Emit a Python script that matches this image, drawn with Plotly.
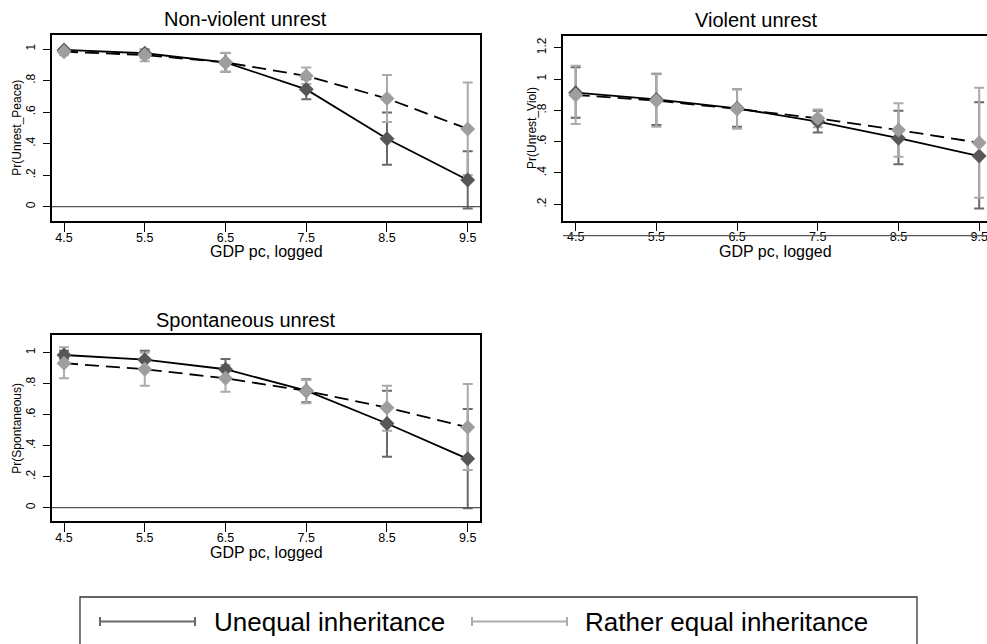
import plotly.graph_objects as go

# ---------------- data ----------------
gdp = [4.5, 5.5, 6.5, 7.5, 8.5, 9.5]
gdp_labels = ["4.5", "5.5", "6.5", "7.5", "8.5", "9.5"]

# Non-violent unrest: Pr(Unrest_Peace)
peace_uneq = [0.994, 0.973, 0.915, 0.744, 0.431, 0.169]
peace_uneq_lo = [0.980, 0.945, 0.855, 0.681, 0.266, -0.012]
peace_uneq_hi = [1.005, 1.000, 0.975, 0.808, 0.597, 0.351]
peace_eq = [0.983, 0.962, 0.915, 0.829, 0.686, 0.493]
peace_eq_lo = [0.960, 0.922, 0.855, 0.778, 0.537, 0.201]
peace_eq_hi = [1.005, 1.000, 0.977, 0.882, 0.835, 0.787]

# Violent unrest: Pr(Unrest_Viol)
viol_uneq = [0.913, 0.870, 0.813, 0.728, 0.622, 0.508]
viol_uneq_lo = [0.753, 0.706, 0.696, 0.658, 0.455, 0.174]
viol_uneq_hi = [1.075, 1.034, 0.934, 0.798, 0.798, 0.851]
viol_eq = [0.898, 0.862, 0.809, 0.749, 0.674, 0.593]
viol_eq_lo = [0.713, 0.696, 0.683, 0.692, 0.504, 0.242]
viol_eq_hi = [1.085, 1.030, 0.935, 0.806, 0.845, 0.945]

# Spontaneous unrest: Pr(Spontaneous)
spon_uneq = [0.985, 0.955, 0.893, 0.755, 0.543, 0.315]
spon_uneq_lo = [0.960, 0.900, 0.830, 0.680, 0.329, -0.004]
spon_uneq_hi = [1.013, 1.013, 0.959, 0.828, 0.755, 0.637]
spon_eq = [0.932, 0.893, 0.835, 0.753, 0.645, 0.519]
spon_eq_lo = [0.835, 0.787, 0.748, 0.673, 0.497, 0.243]
spon_eq_hi = [1.035, 1.000, 0.920, 0.824, 0.787, 0.798]

y_ticks_a = [0, 0.2, 0.4, 0.6, 0.8, 1.0]
y_labels_a = ["0", ".2", ".4", ".6", ".8", "1"]
y_ticks_b = [0.2, 0.4, 0.6, 0.8, 1.0, 1.2]
y_labels_b = [".2", ".4", ".6", ".8", "1", "1.2"]

series_names = ["Unequal inheritance", "Rather equal inheritance"]
panel_titles = ["Non-violent unrest", "Violent unrest", "Spontaneous unrest"]
y_titles = ["Pr(Unrest_Peace)", "Pr(Unrest_Viol)", "Pr(Spontaneous)"]
x_title = "GDP pc, logged"

# ---------------- style ----------------
W, H = 987, 644
FONT = "Liberation Sans, Arial, sans-serif"
DARK_M = "#575757"
LIGHT_M = "#9e9e9e"
DARK_CI = "#6a6a6a"
LIGHT_CI = "#ababab"
MSIZE = 11.5


def px(v):
    return v / W


def py(v):
    return 1 - v / H


# panel boxes in pixels: left, right, top, bottom
boxes = [
    (52, 480, 35, 221),
    (563, 987, 35.7, 220.7),
    (52, 480, 335, 521),
]
x_ranges = [[4.351, 9.652], [4.343, 9.597], [4.351, 9.652]]
y_ranges = [[-0.0907, 1.0888], [0.0953, 1.2766], [-0.086, 1.114]]

panels = [
    (peace_uneq, peace_uneq_lo, peace_uneq_hi, peace_eq, peace_eq_lo, peace_eq_hi),
    (viol_uneq, viol_uneq_lo, viol_uneq_hi, viol_eq, viol_eq_lo, viol_eq_hi),
    (spon_uneq, spon_uneq_lo, spon_uneq_hi, spon_eq, spon_eq_lo, spon_eq_hi),
]

fig = go.Figure()

for i, (u, ulo, uhi, e, elo, ehi) in enumerate(panels):
    xa = "x" if i == 0 else f"x{i+1}"
    ya = "y" if i == 0 else f"y{i+1}"
    for vals, lo, hi, col in ((u, ulo, uhi, DARK_CI), (e, elo, ehi, LIGHT_CI)):
        fig.add_trace(go.Scatter(
            x=gdp, y=vals, xaxis=xa, yaxis=ya, mode="markers",
            marker=dict(size=1, color="rgba(0,0,0,0)"),
            error_y=dict(type="data", symmetric=False,
                         array=[h - v for h, v in zip(hi, vals)],
                         arrayminus=[v - l for v, l in zip(vals, lo)],
                         color=col, thickness=2, width=5),
            showlegend=False, hoverinfo="skip"))
    fig.add_trace(go.Scatter(
        x=gdp, y=u, xaxis=xa, yaxis=ya, mode="lines+markers", name=series_names[0],
        line=dict(color="black", width=1.8),
        marker=dict(symbol="diamond", size=MSIZE, color=DARK_M, line=dict(width=0)),
        showlegend=False))
    fig.add_trace(go.Scatter(
        x=gdp, y=e, xaxis=xa, yaxis=ya, mode="lines+markers", name=series_names[1],
        line=dict(color="black", width=1.8, dash="14px,7px"),
        marker=dict(symbol="diamond", size=MSIZE, color=LIGHT_M, line=dict(width=0)),
        showlegend=False))

layout = dict(
    width=W, height=H, margin=dict(l=0, r=0, t=0, b=0),
    paper_bgcolor="white", plot_bgcolor="white",
    font=dict(family=FONT, color="black"),
    showlegend=False,
)

shapes = []
annotations = []
for i, (l, r, t, b) in enumerate(boxes):
    sfx = "" if i == 0 else str(i + 1)
    xd = [px(l), px(r)]
    yd = [py(b), py(t)]
    layout["xaxis" + sfx] = dict(
        domain=xd, range=x_ranges[i], anchor="y" + sfx,
        tickmode="array", tickvals=gdp, ticktext=gdp_labels,
        ticks="outside", ticklen=9, tickwidth=1.2, tickcolor="black",
        showline=True, linecolor="black", linewidth=1.5, mirror=True,
        showgrid=False, zeroline=False, tickfont=dict(size=12.5),
        ticklabelstandoff=-5, ticklabeloverflow="allow", fixedrange=True)
    yt, yl = (y_ticks_b, y_labels_b) if i == 1 else (y_ticks_a, y_labels_a)
    layout["yaxis" + sfx] = dict(
        domain=yd, range=y_ranges[i], anchor="x" + sfx,
        tickmode="array", tickvals=yt, ticktext=yl, tickangle=-90,
        ticks="outside", ticklen=7, tickwidth=1.2, tickcolor="black",
        showline=True, linecolor="black", linewidth=1.5, mirror=(i != 1),
        showgrid=False, zeroline=False, tickfont=dict(size=12),
        ticklabelstandoff=3, fixedrange=True)

    # reference line at y = 0
    r0, r1 = y_ranges[i]
    y0_paper = yd[0] + (0 - r0) / (r1 - r0) * (yd[1] - yd[0])
    shapes.append(dict(type="line", xref=f"x{sfx} domain", yref="paper",
                       x0=0, x1=1, y0=y0_paper, y1=y0_paper,
                       line=dict(color="#555555", width=1.3), layer="above"))

    # x title
    annotations.append(dict(text=x_title, x=(xd[0] + xd[1]) / 2, y=py(b + 31),
                            xref="paper", yref="paper", showarrow=False,
                            xanchor="center", yanchor="middle",
                            font=dict(size=16)))
    # y title
    ytx = [16.7, 531.7, 16.7][i]
    annotations.append(dict(text=y_titles[i], x=px(ytx), y=(yd[0] + yd[1]) / 2,
                            xref="paper", yref="paper", showarrow=False,
                            textangle=-90, xanchor="center", yanchor="middle",
                            font=dict(size=12)))
    # panel title
    tcx = [245, 756, 245][i]
    annotations.append(dict(text=panel_titles[i], x=px(tcx), y=py(t - 15.5),
                            xref="paper", yref="paper", showarrow=False,
                            xanchor="center", yanchor="middle",
                            font=dict(size=20)))

# ---------------- legend (drawn) ----------------
leg_left, leg_right, leg_top, leg_bot = 80, 917, 597, 660
shapes.append(dict(type="rect", xref="paper", yref="paper",
                   x0=px(leg_left), x1=px(leg_right), y0=py(leg_bot), y1=py(leg_top),
                   line=dict(color="#333333", width=1.3), fillcolor="rgba(0,0,0,0)"))
leg_y = 621.5
for (x0, x1, col, tx, name) in ((100, 195, DARK_CI, 212, series_names[0]),
                                (472, 567, LIGHT_CI, 583, series_names[1])):
    shapes.append(dict(type="line", xref="paper", yref="paper",
                       x0=px(x0), x1=px(x1), y0=py(leg_y), y1=py(leg_y),
                       line=dict(color=col, width=2)))
    for xc in (x0, x1):
        shapes.append(dict(type="line", xref="paper", yref="paper",
                           x0=px(xc), x1=px(xc), y0=py(leg_y - 4.5), y1=py(leg_y + 4.5),
                           line=dict(color=col, width=2)))
    annotations.append(dict(text=name, x=px(tx), y=py(leg_y), xref="paper", yref="paper",
                            showarrow=False, xanchor="left", yanchor="middle",
                            font=dict(size=26)))

layout["shapes"] = shapes
layout["annotations"] = annotations
fig.update_layout(**layout)

fig.write_html("out.html", config={"displayModeBar": False},
               post_script="document.body.style.margin='0px';document.body.style.overflow='hidden';")
